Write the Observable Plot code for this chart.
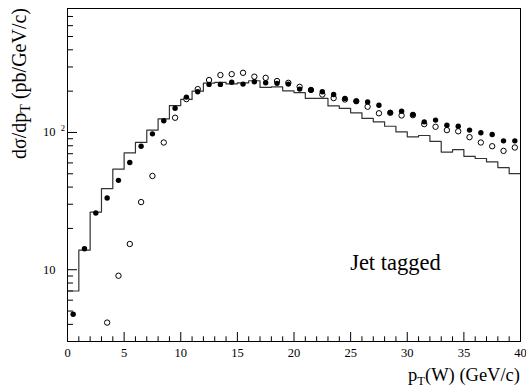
<!DOCTYPE html>
<html><head><meta charset="utf-8">
<script src="https://cdn.jsdelivr.net/npm/d3@7"></script>
<script src="https://cdn.jsdelivr.net/npm/@observablehq/plot@0.6"></script>
<style>body{margin:0;background:#fff} svg{display:block} svg text{font-family:"Liberation Serif","Times New Roman",serif}</style>
</head><body><div id="chart"></div>
<script>
// pT(W) bin edges (GeV/c), 1 GeV bins from 0 to 40
const binLow = [0,1,2,3,4,5,6,7,8,9,10,11,12,13,14,15,16,17,18,19,20,21,22,23,24,25,26,27,28,29,30,31,32,33,34,35,36,37,38,39];
const binWidth = 1;
// histogram (step line) dσ/dpT
const histValues = [7.0,13.9,26.3,39.0,54.0,71.0,84.6,104,125.6,157,174,200,229,232,226,230,238,213,215,201,195,177,177,156,150,139,126.5,119.5,111,101,93,95,86,72,75,67,64.6,61,55.5,50.1];
// filled markers
const filledValues = [4.74,14.2,25.9,33.3,44.8,60.4,79.4,97.7,121.6,150,181,198,224,224,232,225,234,230,228,225,207,204,198,189,177,169,167,158,140,143,135,119.5,123,113,111,104,99.4,96.7,86.9,86.9];
// open markers
const openValues = [null,null,null,4.12,9.04,15.4,31.1,48.2,84.5,128,175,207,241,262,266,272,255,250,237,230,215,204,189,178,174,169,154,138,139,133,133.7,115,110,104,102,92.4,84.5,79.4,73.4,77.7];

// axis ticks
const xMajor = [0,5,10,15,20,25,30,35,40];
const xMinor = [1,2,3,4,6,7,8,9,11,12,13,14,16,17,18,19,21,22,23,24,26,27,28,29,31,32,33,34,36,37,38,39];
const yMajor = [10,100];
const yMinor = [4,5,6,7,8,9,20,30,40,50,60,70,80,90,200,300,400,500,600,700,800];
const yTickText = ["10","10"];
const yTickExp = ["","2"];
const annotation = "Jet tagged";

const histPts = binLow.map((x,i)=>({x, y: histValues[i]}));
histPts.push({x: binLow[binLow.length-1] + binWidth, y: histValues[histValues.length-1]});
const filledPts = binLow.map((x,i)=>({x: x + binWidth/2, y: filledValues[i]}));
const openPts = binLow.map((x,i)=>({x: x + binWidth/2, y: openValues[i]})).filter(d=>d.y != null);
const yLabs = yMajor.map((v,i)=>({v, t: yTickText[i], e: yTickExp[i]}));

const serif = "Liberation Serif";
const chart = Plot.plot({
  width: 526, height: 387,
  marginLeft: 67, marginRight: 6, marginTop: 8, marginBottom: 46,
  style: {fontFamily: "'Liberation Serif', serif", background: "white", color: "black"},
  x: {domain: [0, 40]},
  y: {type: "log", domain: [3, 800]},
  marks: [
    Plot.axisX(xMinor, {anchor: "bottom", tickSize: -4.7, tickFormat: () => "", label: null}),
    Plot.axisX(xMajor, {anchor: "bottom", tickSize: -9, tickFormat: () => "", label: null}),
    Plot.axisY(yMinor, {anchor: "left", tickSize: -6, tickFormat: () => "", label: null}),
    Plot.axisY(yMajor, {anchor: "left", tickSize: -10, tickFormat: () => "", label: null}),
    Plot.text(xMajor, {x: d => d, text: d => String(d), frameAnchor: "bottom", lineAnchor: "top", dy: 7, fontSize: 12.5, fontFamily: serif, fill: "black"}),
    Plot.text(yLabs, {y: "v", text: "t", frameAnchor: "left", textAnchor: "start", lineAnchor: "middle", dx: -24.5, fontSize: 12.5, fontFamily: serif, fill: "black"}),
    Plot.text(yLabs, {y: "v", text: "e", frameAnchor: "left", textAnchor: "start", lineAnchor: "middle", dx: -6.8, dy: -4.5, fontSize: 8.5, fontFamily: serif, fill: "black"}),
    Plot.line(histPts, {x: "x", y: "y", curve: "step-after", stroke: "#333", strokeWidth: 1.2}),
    Plot.dot(openPts, {x: "x", y: "y", r: 2.7, stroke: "black", strokeWidth: 1, fill: "white"}),
    Plot.dot(filledPts, {x: "x", y: "y", r: 2.7, fill: "black"}),
    Plot.frame({stroke: "black", strokeWidth: 1})
  ]
});
document.getElementById("chart").appendChild(chart);

const svg = d3.select(chart);
const xs = chart.scale("x"), ys = chart.scale("y");
// annotation in user coordinates
svg.append("text").attr("x", xs.apply(25)).attr("y", ys.apply(9.9))
  .attr("text-anchor", "start")
  .attr("font-family", serif).attr("font-size", 22.5).attr("fill", "black").text(annotation);
// y title
const yt = svg.append("text").attr("transform", "translate(26,83.5) rotate(-90)")
  .attr("text-anchor", "middle").attr("font-family", serif).attr("font-size", 20).attr("fill", "black");
yt.append("tspan").text("dσ/dp");
yt.append("tspan").attr("dy", 4).attr("font-size", 14).text("T");
yt.append("tspan").attr("dy", -4).text(" (pb/GeV/c)");
// x title
const xt = svg.append("text").attr("x", 520).attr("y", 381)
  .attr("text-anchor", "end").attr("font-family", serif).attr("font-size", 18.5).attr("fill", "black");
xt.append("tspan").text("p");
xt.append("tspan").attr("dy", 3.5).attr("font-size", 12.5).text("T");
xt.append("tspan").attr("dy", -3.5).text("(W) (GeV/c)");
</script>
</body></html>
